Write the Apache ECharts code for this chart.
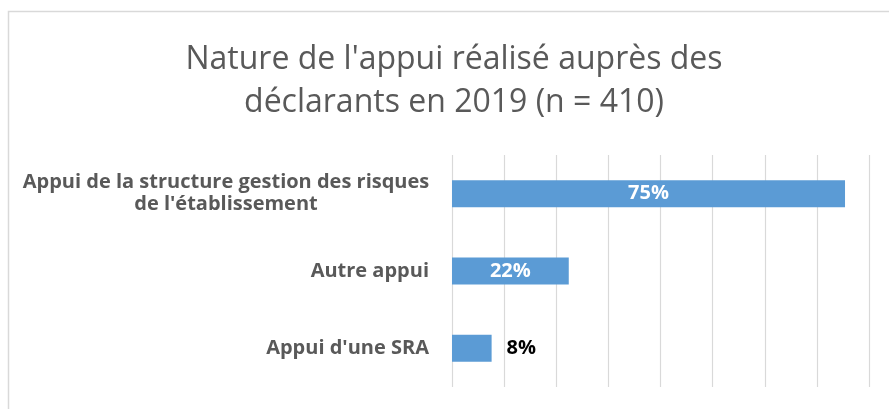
<!DOCTYPE html>
<html>
<head>
<meta charset="utf-8">
<script src="https://cdn.jsdelivr.net/npm/echarts@6/dist/echarts.min.js"></script>
<style>html,body{margin:0;padding:0;background:#fff;}#c{width:889px;height:409px;}</style>
</head>
<body>
<div id="c"></div>
<script>
const titleText = "Nature de l'appui réalisé auprès des\ndéclarants en 2019 (n = 410)";
const categories = ["Appui de la structure gestion des risques de l'établissement", "Autre appui", "Appui d'une SRA"];
const values = [75.4, 22.4, 7.6];
const xTicks = [0, 10, 20, 30, 40, 50, 60, 70, 80];

const FONT = 'Open Sans';
const chart = echarts.init(document.getElementById('c'), null, {renderer: 'canvas'});

function wrapLabel(v) {
  if (v.length <= 42) return v;
  const words = v.split(' ');
  const lines = [];
  let cur = '';
  words.forEach(w => {
    const t = cur ? cur + ' ' + w : w;
    if (t.length > 41) { lines.push(cur); cur = w; } else cur = t;
  });
  if (cur) lines.push(cur);
  return lines.map(l => '{w|' + l + '}').join('\n');
}

const seriesData = values.map(v => {
  const outside = v < 10;
  return {
    value: v,
    label: outside
      ? {position: 'right', distance: 15, color: '#000000'}
      : {position: 'inside', color: '#ffffff'}
  };
});

chart.setOption({
  animation: false,
  backgroundColor: '#ffffff',
  textStyle: {fontFamily: FONT},
  graphic: [{
    type: 'rect',
    left: 6, top: 9,
    shape: {x: 0, y: 0, width: 900, height: 420},
    style: {fill: 'none', stroke: '#d9d9d9', lineWidth: 1.5},
    silent: true
  }],
  title: {
    text: titleText,
    left: 449,
    top: 33,
    textAlign: 'center',
    textStyle: {fontFamily: FONT, fontSize: 32, fontWeight: 'normal', color: '#595959', lineHeight: 43}
  },
  grid: {left: 452, right: 20, top: 155, bottom: 22, containLabel: false},
  xAxis: {
    type: 'value',
    min: xTicks[0],
    max: xTicks[xTicks.length - 1],
    interval: xTicks[1] - xTicks[0],
    axisLabel: {show: false},
    axisLine: {show: false},
    axisTick: {show: false},
    splitLine: {show: true, lineStyle: {color: '#d9d9d9', width: 1.2}}
  },
  yAxis: {
    type: 'category',
    data: categories,
    inverse: true,
    axisLine: {show: false},
    axisTick: {show: false},
    axisLabel: {
      margin: 23,
      fontFamily: FONT,
      fontSize: 20,
      fontWeight: 'bold',
      color: '#595959',
      align: 'right',
      lineHeight: 22,
      formatter: wrapLabel,
      rich: {
        w: {width: 406, align: 'center', fontFamily: FONT, fontSize: 20, fontWeight: 'bold', color: '#595959', lineHeight: 22}
      }
    }
  },
  series: [{
    type: 'bar',
    data: seriesData,
    barWidth: 27,
    itemStyle: {color: '#5b9bd5'},
    label: {
      show: true,
      fontFamily: FONT,
      fontSize: 20,
      fontWeight: 'bold',
      formatter: p => Math.round(p.value) + '%'
    }
  }]
});
</script>
</body>
</html>
